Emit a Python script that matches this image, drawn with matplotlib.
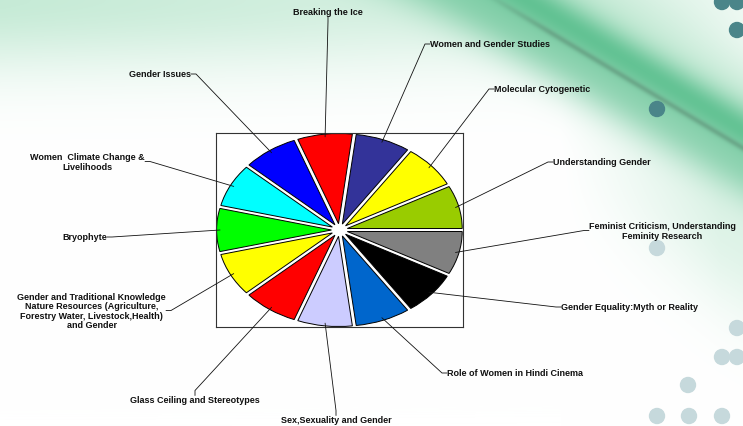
import numpy as np
import matplotlib.pyplot as plt
from matplotlib.patches import Circle

# slices, clockwise from the top (13 equal parts)
labels = ['Breaking the Ice',
          'Women and Gender Studies',
          'Molecular Cytogenetic',
          'Understanding Gender',
          'Feminist Criticism, Understanding\nFeminity Research',
          'Gender Equality:Myth or Reality',
          'Role of Women in Hindi Cinema',
          'Sex,Sexuality and Gender',
          'Glass Ceiling and Stereotypes',
          'Gender and Traditional Knowledge\nNature Resources (Agriculture,\n'
          'Forestry Water, Livestock,Health)\nand Gender',
          'Bryophyte',
          'Women  Climate Change &\nLivelihoods',
          'Gender Issues']
values = [1, 1, 1, 1, 1, 1, 1, 1, 1, 1, 1, 1, 1]
colors = ['#FF0000', '#333399', '#FFFF00', '#99CC00', '#808080', '#000000',
          '#0066CC', '#CCCCFF', '#FF0000', '#FFFF00', '#00FF00', '#00FFFF',
          '#0000FF']

W, H = 743, 427

# label anchor (pixels from top left of the picture) and which side the label is on
label_pos = [(328, 13, 't'), (430, 45, 'r'), (494, 90, 'r'), (553, 163, 'r'),
             (589, 231.5, 'r'), (561, 308, 'r'), (447, 374, 'r'),
             (336, 421, 'b'), (195, 401, 'b'), (166, 311.5, 'l'),
             (107, 238, 'l'), (145, 162.5, 'l'), (191, 75, 'l')]

fig = plt.figure(figsize=(W / 100, H / 100), dpi=100)

# achtergrond van de dia: groene zwaai en bolletjes
bg = fig.add_axes([0, 0, 1, 1], zorder=0)
xx, yy = np.meshgrid(np.arange(W), np.arange(H))
d = yy - 0.6 * (xx - 495) - 0.0006 * (xx - 495)**2 * (xx < 495)   # afstand tot de donkere streep
img = np.ones((H, W, 3))
green = np.array([0.33, 0.74, 0.54])
mint = np.array([0.72, 0.90, 0.80])
line_c = np.array([0.38, 0.58, 0.48])
a_haze = 0.8 * np.exp(-(yy / 70.0)**2) * np.clip(1 - xx / 800.0, 0, 1)**0.5
a_wide = 0.7 * np.exp(-((d + 45) / 55.0)**2)
a_band = 0.85 * np.exp(-((d + 18) / 26.0)**2)
a_below = 0.55 * np.exp(-((d - 20) / 35.0)**2)
a_right = 0.45 * np.exp(-((d - 90) / 80.0)**2) * np.clip((xx - 560) / 160.0, 0, 1)
a_line = 0.6 * np.exp(-(d / 3.5)**2) * np.clip((xx - 470) / 80.0, 0, 1)
for a, c in [(a_haze, mint), (a_wide, mint), (a_right, mint), (a_below, green),
             (a_band, green), (a_line, line_c)]:
    img = img * (1 - a[..., None]) + c * a[..., None]
bg.imshow(img, extent=(0, W, H, 0), aspect='auto')
for (cx, cy) in [(722, 3), (737, 3), (737, 31), (657, 110)]:
    bg.add_patch(Circle((cx, cy), 7.5, color='#4a8589'))
for (cx, cy) in [(657, 249), (737, 329), (722, 358), (737, 358), (688, 386),
                 (657, 417), (689, 417), (722, 417)]:
    bg.add_patch(Circle((cx, cy), 7.5, color='#c6d9dc'))
bg.set_xlim(0, W)
bg.set_ylim(H, 0)
bg.axis('off')

# het taartdiagram in een kader
ax = fig.add_axes([216 / W, 1 - 328 / H, 247 / W, 194 / H], zorder=1)
ax.set_facecolor('white')
explode = 0.07
wedges, _ = ax.pie(values, colors=colors, explode=[explode] * len(values),
                   startangle=4 * 360 / len(values), counterclock=False,
                   wedgeprops=dict(edgecolor='black', linewidth=0.7))
ax.set_aspect('auto')
lim = 1 + explode + 0.005
ax.set_xlim(-lim, lim)
ax.set_ylim(-lim, lim)
ax.set_frame_on(True)
for s in ax.spines.values():
    s.set_visible(True)
    s.set_linewidth(0.8)
    s.set_color('#333333')
ax.set_xticks([])
ax.set_yticks([])

side_opts = {'l': ('right', 'center', (1, 0.5), 0),
             'r': ('left', 'center', (0, 0.5), 180),
             't': ('center', 'center', (0.5, 0), -90),
             'b': ('center', 'center', (0.5, 1), 90)}

for w, lab, (tx, ty, side) in zip(wedges, labels, label_pos):
    mid = np.deg2rad((w.theta1 + w.theta2) / 2)
    cx, cy = w.center
    px = cx + 0.97 * w.r * np.cos(mid)
    py = cy + 0.97 * w.r * np.sin(mid)
    ha, va, relpos, ang = side_opts[side]
    ax.annotate(lab, xy=(px, py), xycoords='data',
                xytext=(tx, H - ty), textcoords='figure pixels',
                ha=ha, va=va, multialignment='center', linespacing=1.05,
                fontsize=6.5, fontweight='bold', family='Liberation Sans',
                color='#111111',
                arrowprops=dict(arrowstyle='-', color='#111111', lw=0.6,
                                shrinkA=0, shrinkB=0, patchA=None,
                                relpos=relpos,
                                connectionstyle='arc,angleA=%d,angleB=0,armA=5,armB=0,rad=0' % ang))

fig.savefig('out.png', dpi=100)
